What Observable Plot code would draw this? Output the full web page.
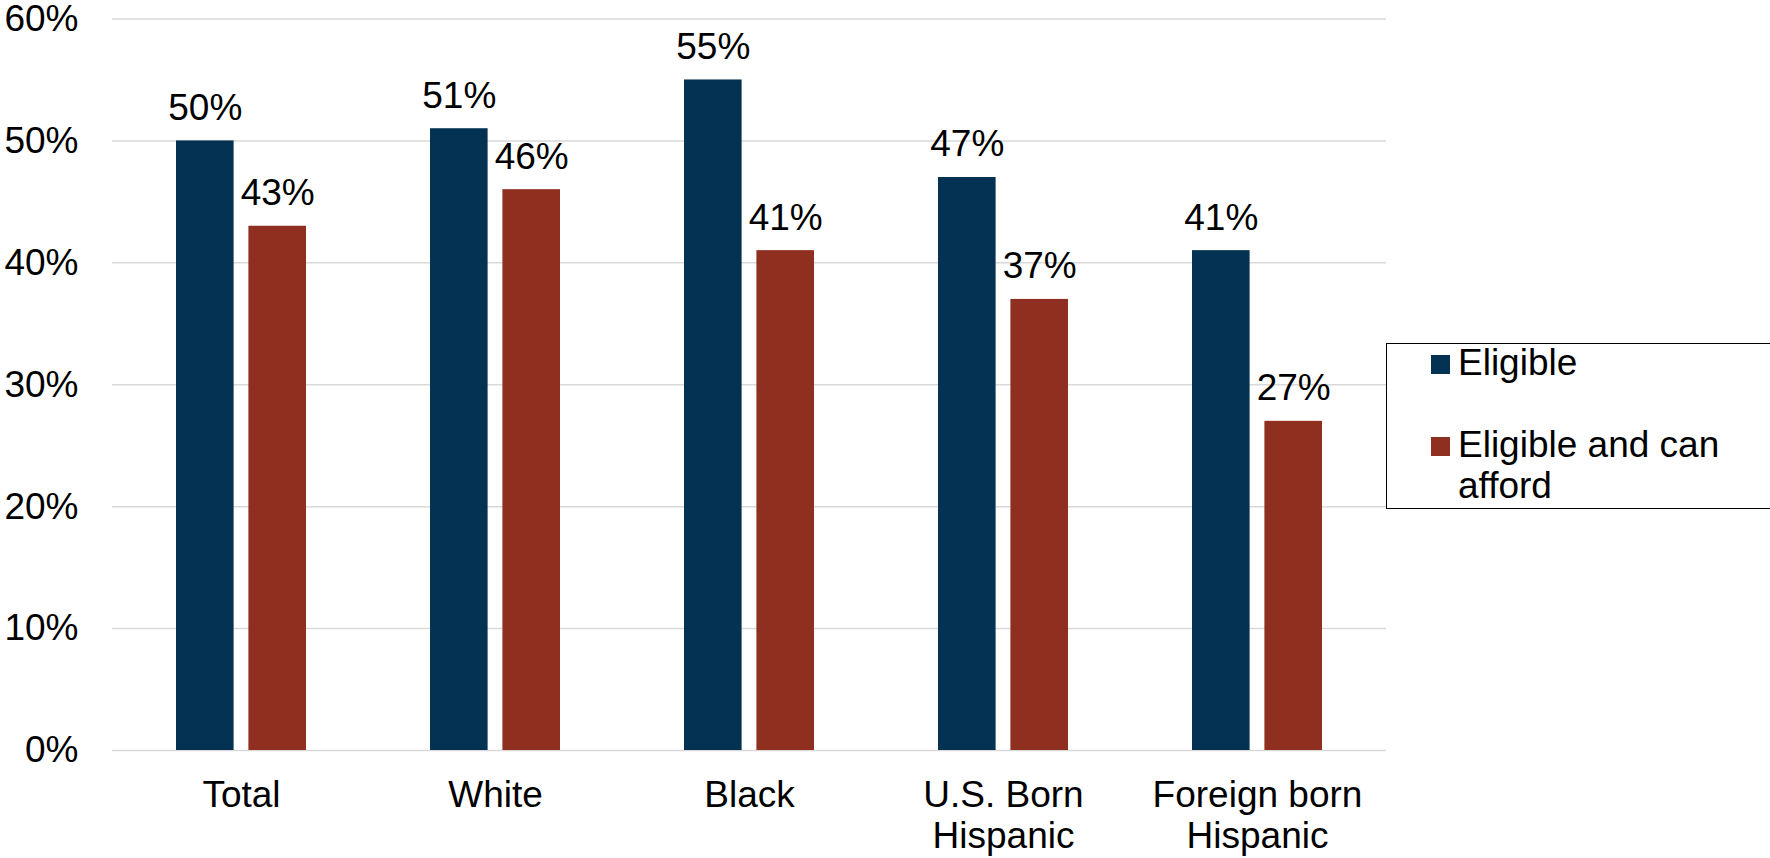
<!DOCTYPE html>
<html><head><meta charset="utf-8">
<script src="https://cdn.jsdelivr.net/npm/d3@7"></script>
<script src="https://cdn.jsdelivr.net/npm/@observablehq/plot@0.6"></script>
<style>
html,body{margin:0;padding:0;background:#fff;}
#wrap{position:relative;width:1770px;height:858px;overflow:hidden;font-family:"Liberation Sans",Arial,sans-serif;color:#000;}
#wrap svg{position:absolute;left:0;top:0;}
.lg-box{position:absolute;left:1386px;top:343px;width:460px;height:166px;border:1.5px solid #000;box-sizing:border-box;background:#fff;}
.lg-sw{position:absolute;width:19px;height:19px;}
.lg-tx{position:absolute;font-size:37px;line-height:41.5px;width:300px;}
</style></head><body><div id="wrap"></div>
<script>
const categories = ["Total", "White", "Black", "U.S. Born\nHispanic", "Foreign born\nHispanic"];
const series = ["Eligible", "Eligible and can afford"];
const eligible = [0.50, 0.51, 0.55, 0.47, 0.41];
const canAfford = [0.43, 0.46, 0.41, 0.37, 0.27];
const yTicks = [0, 0.1, 0.2, 0.3, 0.4, 0.5, 0.6];
const colors = ["#033252", "#8f2f20"];

const rowsE = categories.map((c, i) => ({category: c, series: series[0], value: eligible[i]}));
const rowsA = categories.map((c, i) => ({category: c, series: series[1], value: canAfford[i]}));
const pct = d3.format(".0%");
const font = "'Liberation Sans', Arial, sans-serif";

const chart = Plot.plot({
  width: 1770, height: 858,
  marginLeft: 112, marginRight: 384, marginTop: 18.5, marginBottom: 108,
  style: {fontFamily: font, fontSize: "37px", color: "#000", background: "transparent"},
  x: {domain: categories, paddingInner: 0.49, paddingOuter: 0.245},
  y: {domain: [0, 0.6]},
  color: {domain: series, range: colors},
  marks: [
    Plot.gridY(yTicks, {stroke: "#d9d9d9", strokeOpacity: 1, strokeWidth: 1.5}),
    Plot.barY(rowsE, {x: "category", y: "value", fill: "series", insetRight: 72.4}),
    Plot.barY(rowsA, {x: "category", y: "value", fill: "series", insetLeft: 72.4}),
    Plot.text(rowsE, {x: "category", y: "value", text: d => pct(d.value), dx: -36.2, dy: -21, lineAnchor: "bottom", fontSize: 37, fill: "#000"}),
    Plot.text(rowsA, {x: "category", y: "value", text: d => pct(d.value), dx: 36.2, dy: -21, lineAnchor: "bottom", fontSize: 37, fill: "#000"}),
    Plot.axisY(yTicks, {tickSize: 0, tickPadding: 34, tickFormat: pct, fontSize: 37, label: null}),
    Plot.axisX({tickSize: 0, tickPadding: 27, fontSize: 37, lineHeight: 1.12, label: null})
  ]
});

const wrap = document.getElementById("wrap");
wrap.appendChild(chart);

// legend
const box = document.createElement("div");
box.className = "lg-box";
wrap.appendChild(box);
const legendTops = [341.5, 423.7];
series.forEach((s, i) => {
  const sw = document.createElement("div");
  sw.className = "lg-sw";
  sw.style.left = "1431px";
  sw.style.top = (legendTops[i] + 13.5) + "px";
  sw.style.background = colors[i];
  wrap.appendChild(sw);
  const tx = document.createElement("div");
  tx.className = "lg-tx";
  tx.style.left = "1458px";
  tx.style.top = legendTops[i] + "px";
  tx.textContent = s;
  wrap.appendChild(tx);
});
</script>
</body></html>
